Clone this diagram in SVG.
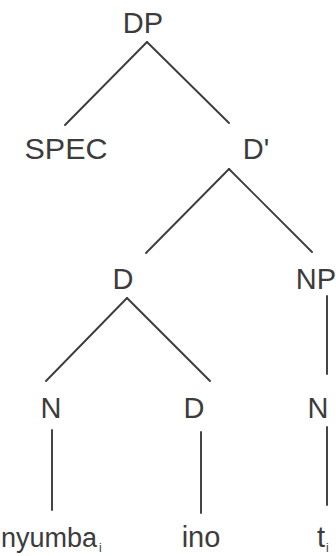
<svg xmlns="http://www.w3.org/2000/svg" width="336" height="556" viewBox="0 0 336 556">
<style>
text{font-family:"Liberation Sans",Arial,sans-serif;font-size:29px;fill:#3c3c3c;text-anchor:middle}
.sub{font-size:12px}
line{stroke:#3c3c3c;stroke-width:1.9;stroke-linecap:round}
</style>
<rect width="336" height="556" fill="#fff"/>
<g id="connectors">
<line x1="147" y1="42" x2="65" y2="125"/>
<line x1="147" y1="42" x2="229" y2="123"/>
<line x1="229" y1="169" x2="146" y2="253"/>
<line x1="229" y1="169" x2="312" y2="252"/>
<line x1="127" y1="298" x2="46" y2="381"/>
<line x1="127" y1="298" x2="210" y2="381"/>
<line x1="327" y1="296" x2="327" y2="374"/>
<line x1="52" y1="430" x2="52" y2="510"/>
<line x1="201" y1="432" x2="201" y2="513"/>
<line x1="327" y1="427" x2="327" y2="505"/>
</g>
<g id="DP"><text x="143" y="33">DP</text></g>
<g id="SPEC"><text x="66" y="159" textLength="83" lengthAdjust="spacingAndGlyphs">SPEC</text></g>
<g id="Dbar"><text x="256" y="159">D'</text></g>
<g id="D1"><text x="123" y="289">D</text></g>
<g id="NP"><text x="316" y="289">NP</text></g>
<g id="N1"><text x="51" y="418">N</text></g>
<g id="D2"><text x="194" y="418">D</text></g>
<g id="N2"><text x="318" y="418">N</text></g>
<g id="nyumba"><text x="1" y="547" style="text-anchor:start;font-size:27px">nyumba<tspan class="sub" dx="2" dy="5">i</tspan></text></g>
<g id="ino"><text x="201" y="547">ino</text></g>
<g id="t"><text x="317" y="547" style="text-anchor:start">t<tspan class="sub" dx="1" dy="5">i</tspan></text></g>
</svg>
